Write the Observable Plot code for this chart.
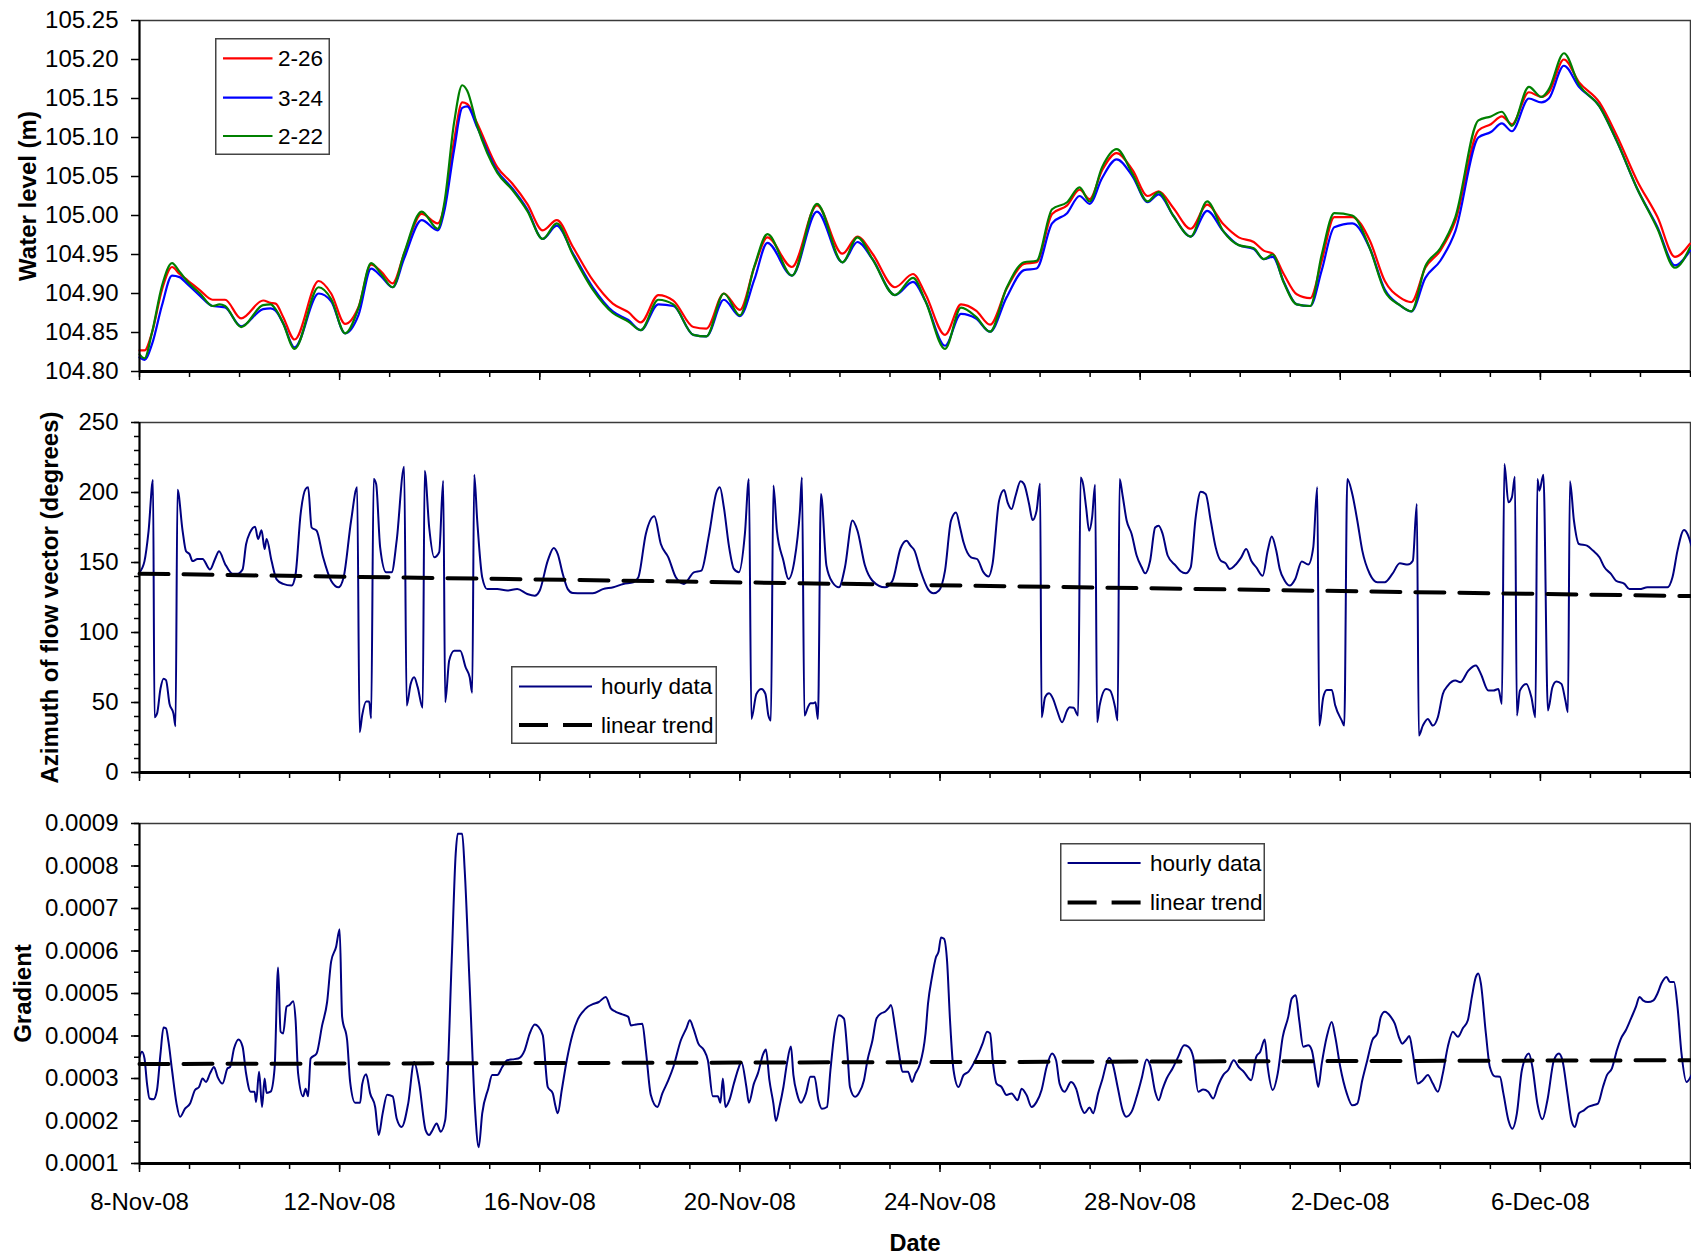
<!DOCTYPE html>
<html><head><meta charset="utf-8">
<script src="https://cdn.jsdelivr.net/npm/d3@7"></script>
<script src="https://cdn.jsdelivr.net/npm/@observablehq/plot@0.6"></script>
<style>
body{margin:0;background:#fff;font-family:"Liberation Sans",Arial,Helvetica,sans-serif;}
#wrap{position:relative;width:1691px;height:1257px;overflow:hidden;}
.panel{position:absolute;left:0;}
.legend{position:absolute;}
</style></head>
<body><div id="wrap"></div>
<script>
// ---------- data ----------
const dateTickLabels = ["8-Nov-08","12-Nov-08","16-Nov-08","20-Nov-08","24-Nov-08","28-Nov-08","2-Dec-08","6-Dec-08"];
const seriesNames = ["2-26","3-24","2-22"];
const seriesColors = ["#ff0000","#0000ff","#008000"];

// water level: time in days since 8-Nov-08 00:00
const wlDays = [0,0.10,0.25,0.45,0.65,0.80,0.96,1.21,1.46,1.60,1.71,2.03,2.47,2.62,2.72,2.87,3.10,3.58,3.83,4.11,4.38,4.63,4.83,5.06,5.29,5.64,5.96,6.09,6.29,6.45,6.55,6.75,7.15,7.45,7.75,8.06,8.34,8.66,9.06,9.46,9.77,10.02,10.37,10.67,11.07,11.33,11.68,12.00,12.29,12.55,13.04,13.54,14.05,14.35,14.65,15.10,15.46,15.71,16.10,16.42,16.72,17.00,17.33,17.68,17.93,18.24,18.54,18.79,18.99,19.24,19.53,19.85,20.15,20.37,20.66,21.01,21.34,21.66,21.97,22.27,22.47,22.65,22.87,23.13,23.40,23.63,23.88,24.24,24.59,24.89,25.19,25.42,25.70,26.00,26.30,26.76,27.01,27.23,27.43,27.77,28.02,28.17,28.47,28.77,29.18,29.53,29.93,30.34,30.69,30.99];
const wl226 = [104.827,104.827,104.850,104.905,104.934,104.925,104.917,104.904,104.892,104.892,104.892,104.868,104.891,104.888,104.887,104.870,104.841,104.916,104.900,104.861,104.883,104.937,104.928,104.913,104.951,105.002,104.990,105.011,105.097,105.145,105.143,105.118,105.062,105.041,105.015,104.981,104.994,104.960,104.917,104.887,104.876,104.863,104.898,104.891,104.857,104.855,104.900,104.879,104.934,104.972,104.934,105.013,104.951,104.973,104.951,104.908,104.925,104.899,104.847,104.886,104.878,104.860,104.906,104.938,104.940,105.002,105.013,105.033,105.021,105.058,105.080,105.058,105.025,105.031,105.010,104.983,105.014,104.989,104.972,104.966,104.955,104.951,104.925,104.899,104.894,104.942,104.998,104.998,104.968,104.916,104.895,104.889,104.933,104.955,104.993,105.109,105.117,105.127,105.117,105.158,105.152,105.158,105.200,105.171,105.145,105.102,105.045,104.998,104.947,104.964];
const wl324 = [104.818,104.815,104.835,104.885,104.923,104.921,104.912,104.897,104.884,104.883,104.882,104.858,104.880,104.881,104.878,104.862,104.831,104.900,104.890,104.849,104.873,104.932,104.922,104.908,104.945,104.994,104.981,105.005,105.085,105.138,105.140,105.113,105.057,105.035,105.008,104.970,104.987,104.952,104.908,104.877,104.866,104.853,104.886,104.884,104.847,104.845,104.892,104.871,104.918,104.965,104.923,105.005,104.940,104.966,104.944,104.898,104.915,104.890,104.833,104.874,104.868,104.851,104.895,104.930,104.932,104.990,105.003,105.025,105.015,105.048,105.072,105.050,105.017,105.027,105.000,104.973,105.006,104.980,104.962,104.957,104.944,104.947,104.915,104.886,104.884,104.930,104.985,104.990,104.958,104.905,104.885,104.877,104.920,104.942,104.980,105.100,105.107,105.118,105.108,105.150,105.145,105.150,105.192,105.165,105.140,105.095,105.035,104.985,104.936,104.955];
const wl222 = [104.822,104.817,104.850,104.910,104.939,104.928,104.915,104.900,104.884,104.886,104.884,104.857,104.885,104.886,104.880,104.862,104.829,104.908,104.893,104.849,104.882,104.939,104.925,104.908,104.952,105.005,104.983,105.015,105.120,105.167,105.160,105.115,105.055,105.033,105.006,104.970,104.990,104.950,104.905,104.875,104.864,104.853,104.892,104.886,104.847,104.845,104.900,104.872,104.935,104.976,104.923,105.015,104.940,104.972,104.944,104.898,104.920,104.890,104.829,104.882,104.870,104.851,104.907,104.940,104.942,105.008,105.017,105.036,105.018,105.062,105.085,105.053,105.018,105.030,105.000,104.973,105.018,104.980,104.962,104.958,104.944,104.950,104.914,104.886,104.884,104.950,105.003,105.000,104.958,104.903,104.885,104.877,104.935,104.958,104.998,105.122,105.127,105.133,105.115,105.165,105.152,105.162,105.208,105.168,105.140,105.095,105.035,104.983,104.933,104.959];
const wlTicks = [104.80,104.85,104.90,104.95,105.00,105.05,105.10,105.15,105.20,105.25];

// azimuth of flow vector (degrees), hourly data
const azDays = [0,0.1,0.18,0.27,0.30,0.35,0.42,0.48,0.53,0.6,0.68,0.72,0.76,0.86,0.93,1.0,1.06,1.16,1.26,1.41,1.51,1.59,1.71,1.86,1.96,2.06,2.13,2.21,2.31,2.37,2.44,2.5,2.54,2.64,2.74,2.87,3.04,3.12,3.22,3.32,3.37,3.44,3.54,3.67,3.83,3.98,4.08,4.23,4.35,4.4,4.45,4.53,4.59,4.63,4.68,4.73,4.81,4.93,5.04,5.14,5.29,5.34,5.42,5.49,5.56,5.66,5.7,5.79,5.89,5.99,6.07,6.11,6.19,6.29,6.41,6.52,6.6,6.65,6.69,6.75,6.85,6.95,7.15,7.35,7.55,7.75,7.9,8.0,8.16,8.28,8.36,8.46,8.56,8.66,8.86,9.06,9.26,9.47,9.67,9.87,9.97,10.12,10.29,10.42,10.57,10.72,10.88,11.08,11.23,11.38,11.53,11.6,11.68,11.78,11.88,11.98,12.1,12.18,12.23,12.33,12.43,12.51,12.57,12.62,12.67,12.74,12.87,12.97,13.09,13.2,13.24,13.29,13.36,13.41,13.47,13.51,13.56,13.62,13.73,13.85,13.98,14.1,14.25,14.35,14.5,14.65,14.9,15.05,15.21,15.33,15.41,15.49,15.61,15.76,15.87,15.98,16.1,16.22,16.32,16.4,16.47,16.62,16.74,16.87,16.97,17.05,17.18,17.28,17.35,17.43,17.51,17.61,17.68,17.78,17.85,17.93,18.0,18.03,18.1,18.18,18.26,18.34,18.44,18.54,18.59,18.67,18.76,18.81,18.86,18.92,18.98,19.04,19.1,19.14,19.19,19.32,19.4,19.5,19.55,19.59,19.65,19.73,19.83,19.93,20.03,20.1,20.2,20.3,20.37,20.45,20.55,20.71,20.81,20.91,21.01,21.11,21.21,21.31,21.41,21.51,21.61,21.71,21.79,21.89,22.02,22.12,22.22,22.32,22.45,22.55,22.63,22.72,22.79,22.89,22.99,23.1,23.23,23.36,23.46,23.54,23.58,23.66,23.73,23.83,23.9,24.03,24.08,24.14,24.24,24.34,24.44,24.59,24.74,24.89,25.04,25.19,25.35,25.45,25.53,25.57,25.65,25.75,25.85,25.95,26.05,26.15,26.3,26.4,26.56,26.71,26.81,26.96,27.06,27.16,27.23,27.28,27.36,27.43,27.49,27.53,27.59,27.72,27.82,27.9,27.94,27.98,28.06,28.15,28.24,28.32,28.42,28.5,28.55,28.59,28.67,28.77,28.93,29.05,29.18,29.28,29.41,29.51,29.68,29.78,29.98,30.14,30.34,30.54,30.64,30.74,30.87,30.94,31.02];
const azHourly = [143,151,172,209,39.5,42,60,67,66,49,42,33,202,173,158,156,151,152.5,152.5,145,152.5,158,149,142,142,145,163,171.5,175.6,166.8,173,159.6,166.8,151,138,134.7,133.5,141.8,184.6,202.5,203.7,175,172.7,153.7,137,132.3,139.4,180,203.7,28.8,40.7,50.7,50.7,38.8,209.6,206,160.8,143,143,165.6,218.4,47.8,63.3,68,61,46.2,215.6,175,153.7,157.3,208.4,50.2,80,87,87,75,68,57,212.7,180,139.4,131,131,130,131,127.5,126.3,130,151.3,160.4,156,141.8,131,128.2,128,128,131,132.3,134.7,135.9,139.4,170.4,183,163.2,153.7,139.4,134.7,143,144.2,169.2,200,203.7,189.4,162,145.4,143,170.4,209.6,38.3,56.1,59.7,56.1,40.7,37.1,205,172.7,151.3,138.2,151.3,187,210.8,40.7,46.6,49.5,49.5,50.2,38.3,199,147.8,135.9,132.3,146.6,180,172.7,147.8,137,132.3,137,160,165.6,162,158.5,144.2,131,128,130,144.2,180,185.8,175,164.4,153.7,152.5,143,140,149,194,201.8,193,188.2,197.7,208,206,191.8,180.3,187,206.5,39.5,53.8,56.6,52.6,44.3,35.9,44.3,46.6,46.2,40.7,210.8,206,189.4,172.7,182.3,205.6,35.9,47.8,59.7,58.5,46.6,37.1,209.6,197.7,180,170.4,155,146.6,142.3,151.3,175,176.3,170.4,155,147.8,143.7,142.3,146.6,182.3,200.6,199,180,160.8,151.3,149.4,145.4,147.8,153.7,159.6,151.3,146.6,140.6,158.5,168.5,158.5,145.4,137,133.5,138.2,150.8,148.5,160.8,203.7,33.5,53.8,59,59,47.8,37.1,33.5,209.6,199,180,158.5,141.8,135.9,135.9,141.8,149.4,148.5,151.3,191.8,26.4,33.5,38.3,33.5,39.5,56.1,62.1,65.7,64.5,72.8,76.4,70.4,58.5,58.5,59.7,49,220.3,193,196.5,211.3,40.7,58.5,63.3,53.8,39.5,209.6,201.3,212.7,44.3,60.9,65,63.3,51.4,43.1,208,180,163.2,162,158.5,153.7,146.6,141.8,137,134.7,131,131,132.3,132.3,132.3,139.4,158.5,173.2,170.4,162];
const azTrendDays = [0,31];
const azTrend = [142,126];
const azTicks = [0,50,100,150,200,250];

// hydraulic gradient, hourly data
const grDays = [0,0.05,0.1,0.15,0.2,0.28,0.35,0.42,0.48,0.53,0.58,0.65,0.74,0.81,0.91,1.01,1.11,1.19,1.26,1.33,1.41,1.49,1.56,1.66,1.76,1.81,1.89,1.98,2.06,2.13,2.22,2.3,2.33,2.39,2.45,2.5,2.54,2.62,2.7,2.77,2.82,2.87,2.94,3.0,3.07,3.12,3.17,3.27,3.32,3.37,3.42,3.54,3.65,3.75,3.83,3.93,4.0,4.05,4.15,4.21,4.31,4.41,4.45,4.53,4.61,4.71,4.78,4.86,4.95,5.06,5.14,5.24,5.37,5.49,5.59,5.72,5.79,5.84,5.94,6.02,6.11,6.24,6.32,6.36,6.45,6.5,6.6,6.7,6.78,6.85,6.97,7.05,7.15,7.25,7.35,7.45,7.57,7.7,7.8,7.9,7.97,8.06,8.16,8.26,8.31,8.36,8.44,8.54,8.66,8.76,8.86,8.96,9.06,9.18,9.32,9.42,9.52,9.65,9.77,9.82,9.92,10.05,10.12,10.22,10.35,10.45,10.57,10.67,10.82,10.93,11.0,11.07,11.17,11.28,11.36,11.46,11.56,11.61,11.66,11.71,11.79,11.88,11.98,12.03,12.13,12.18,12.28,12.36,12.47,12.52,12.59,12.67,12.72,12.79,12.87,12.94,13.02,13.07,13.14,13.22,13.32,13.41,13.49,13.57,13.64,13.74,13.81,13.89,13.98,14.08,14.15,14.2,14.3,14.38,14.48,14.55,14.65,14.73,14.82,14.9,14.98,15.02,15.1,15.18,15.25,15.36,15.44,15.51,15.59,15.71,15.76,15.84,15.92,15.97,16.02,16.08,16.14,16.2,16.27,16.37,16.47,16.57,16.67,16.77,16.85,16.94,17.0,17.06,17.13,17.23,17.33,17.43,17.55,17.63,17.73,17.83,17.93,18.03,18.13,18.24,18.32,18.39,18.49,18.62,18.72,18.82,18.89,18.99,19.06,19.16,19.24,19.38,19.45,19.55,19.65,19.72,19.83,19.93,20.03,20.13,20.2,20.3,20.37,20.45,20.53,20.65,20.76,20.88,20.96,21.06,21.16,21.26,21.36,21.46,21.56,21.66,21.76,21.87,21.97,22.07,22.22,22.32,22.4,22.49,22.55,22.65,22.75,22.85,22.96,23.03,23.11,23.18,23.26,23.36,23.43,23.5,23.56,23.63,23.73,23.83,23.9,24.0,24.13,24.24,24.34,24.44,24.54,24.64,24.74,24.81,24.89,25.01,25.09,25.17,25.24,25.31,25.38,25.45,25.55,25.65,25.75,25.85,25.95,26.05,26.15,26.25,26.35,26.45,26.55,26.63,26.71,26.76,26.81,26.91,26.99,27.09,27.19,27.26,27.36,27.44,27.53,27.63,27.77,27.84,27.94,28.04,28.14,28.27,28.37,28.44,28.54,28.62,28.69,28.77,28.87,28.95,29.05,29.15,29.25,29.33,29.43,29.53,29.61,29.71,29.81,29.91,29.98,30.05,30.15,30.26,30.34,30.42,30.52,30.59,30.67,30.74,30.82,30.92,31.02];
const grHourly = [0.000351,0.000363,0.000347,0.000288,0.000253,0.000251,0.000273,0.000359,0.00042,0.000418,0.000386,0.00032,0.000241,0.00021,0.000229,0.000241,0.000273,0.00028,0.0003,0.000292,0.000312,0.000327,0.000304,0.000288,0.000324,0.000327,0.000371,0.000392,0.000375,0.000312,0.000269,0.000269,0.000245,0.000316,0.000233,0.0003,0.000266,0.000269,0.000324,0.000561,0.00041,0.000406,0.000469,0.000473,0.000482,0.000437,0.000312,0.000258,0.000276,0.000258,0.000347,0.000359,0.000425,0.00048,0.000575,0.00061,0.000651,0.000445,0.00039,0.000292,0.000243,0.000243,0.000286,0.00031,0.000265,0.000233,0.000167,0.000218,0.000262,0.000258,0.000206,0.000186,0.000241,0.000339,0.000288,0.000178,0.000167,0.000175,0.000194,0.000175,0.000202,0.000578,0.000829,0.000876,0.000876,0.00079,0.000516,0.000241,0.000138,0.000218,0.000276,0.000308,0.000308,0.000327,0.000343,0.000345,0.000347,0.000367,0.000406,0.000427,0.000422,0.000402,0.00028,0.000265,0.000237,0.000218,0.000273,0.000343,0.000406,0.000439,0.000457,0.000469,0.000475,0.00048,0.000492,0.000465,0.000457,0.000451,0.000445,0.000425,0.000427,0.000429,0.000367,0.000261,0.000233,0.000265,0.000296,0.000327,0.00039,0.000418,0.000437,0.000418,0.000382,0.000367,0.000343,0.000258,0.000258,0.000243,0.0003,0.000233,0.000249,0.000288,0.000327,0.000339,0.00028,0.000243,0.000288,0.000312,0.000359,0.000368,0.000296,0.000241,0.0002,0.000233,0.00028,0.000335,0.000375,0.000308,0.000265,0.000243,0.000265,0.000304,0.000304,0.000249,0.000229,0.000233,0.00032,0.000406,0.000449,0.000441,0.000359,0.00028,0.000257,0.000266,0.000296,0.000343,0.00039,0.000441,0.000453,0.000457,0.000467,0.000473,0.000422,0.000359,0.000316,0.000316,0.000292,0.000312,0.000331,0.000406,0.000476,0.000539,0.000586,0.000598,0.000632,0.000629,0.000578,0.000437,0.00032,0.00028,0.000308,0.000316,0.000335,0.000359,0.000382,0.00041,0.000406,0.000335,0.000288,0.00028,0.000261,0.000265,0.000249,0.000276,0.000261,0.000233,0.000245,0.000273,0.000327,0.000359,0.000343,0.000288,0.000269,0.000292,0.000276,0.000233,0.000219,0.000232,0.000218,0.000265,0.000296,0.000349,0.000335,0.00028,0.000225,0.00021,0.000222,0.000257,0.0003,0.000345,0.000331,0.000269,0.000249,0.000276,0.0003,0.000324,0.000351,0.000378,0.000375,0.000351,0.000269,0.000274,0.000269,0.000253,0.000284,0.000308,0.00032,0.000343,0.000327,0.000316,0.000296,0.000351,0.000363,0.000392,0.000327,0.000273,0.000312,0.000398,0.000445,0.000488,0.000496,0.000437,0.000375,0.000378,0.000367,0.00032,0.00028,0.000335,0.000398,0.000433,0.000398,0.000327,0.000265,0.000237,0.000241,0.000296,0.000343,0.00039,0.000406,0.000445,0.000457,0.000445,0.000429,0.000398,0.000382,0.00039,0.0004,0.000359,0.000288,0.000296,0.000308,0.000288,0.000269,0.000312,0.000375,0.00041,0.000398,0.000418,0.000437,0.000492,0.000539,0.000547,0.000524,0.000406,0.000327,0.000305,0.000304,0.000265,0.000202,0.000182,0.000218,0.00032,0.000359,0.000327,0.000241,0.000204,0.000249,0.000343,0.000359,0.000343,0.000265,0.000202,0.000186,0.000218,0.000225,0.000233,0.000237,0.000241,0.00028,0.000308,0.000324,0.000367,0.000394,0.000414,0.000441,0.000469,0.000492,0.000484,0.00048,0.000484,0.0005,0.000524,0.000539,0.000527,0.000527,0.000469,0.000359,0.000292,0.000308];
const grTrendDays = [0,31];
const grTrend = [0.000334,0.000343];
const grTicks = [0.0001,0.0002,0.0003,0.0004,0.0005,0.0006,0.0007,0.0008,0.0009];

// ---------- helpers ----------
const FONT = '"Liberation Sans", Arial, Helvetica, sans-serif';
const parseLabel = d3.utcParse("%d-%b-%y");
const start = parseLabel(dateTickLabels[0]);
const toDate = d => new Date(start.getTime() + d * 864e5);
const xDomain = [start, toDate(31)];
const majorDates = dateTickLabels.map(parseLabel);
const dailyDates = d3.utcDay.range(start, d3.utcDay.offset(xDomain[1], 1));
const fmtDate = d3.utcFormat("%-d-%b-%y");
const blank = () => "";
const NAVY = "#000080";
const wrap = document.getElementById("wrap");

function rows(days, vals) { return days.map((d, i) => ({t: toDate(d), v: vals[i]})); }

function xAxes(labels) {
  return [
    Plot.axisX(dailyDates, {tickSize: 6, tickFormat: blank, strokeWidth: 1.5, label: null}),
    Plot.axisX(majorDates, {tickSize: 9, tickPadding: 20.5, strokeWidth: 1.5, tickFormat: labels ? fmtDate : blank, label: null, fontSize: 24})
  ];
}

function panel({top, height, marginTop, marginBottom, yDomain, major, minor, fmt, title, titleDx, marks, labels}) {
  const p = Plot.plot({
    width: 1691, height, marginLeft: 139, marginRight: 1, marginTop, marginBottom,
    style: {fontFamily: FONT, fontSize: "24px", color: "#000", background: "transparent", overflow: "visible"},
    x: {type: "utc", domain: xDomain},
    y: {domain: yDomain},
    marks: [
      Plot.frame({stroke: "#3a3a3a", strokeWidth: 1.5}),
      ...marks,
      Plot.ruleX([xDomain[0]], {stroke: "#000", strokeWidth: 2}),
      Plot.ruleY([yDomain[0]], {stroke: "#000", strokeWidth: 3}),
      ...(minor ? [Plot.axisY(minor, {tickSize: 5, tickFormat: blank, strokeWidth: 1.5, label: null})] : []),
      Plot.axisY(major, {tickSize: 8, tickPadding: 13, tickFormat: fmt, strokeWidth: 1.5, label: null, fontSize: 24}),
      ...xAxes(labels),
      Plot.text([title], {frameAnchor: "left", textAnchor: "middle", lineAnchor: "middle", rotate: -90, dx: titleDx, fontWeight: "bold", fontSize: 24, text: d => d}),
      ...(labels ? [Plot.text(["Date"], {frameAnchor: "bottom", textAnchor: "middle", lineAnchor: "middle", dy: 80, fontWeight: "bold", fontSize: 23.5, text: d => d})] : [])
    ]
  });
  p.classList.add("panel");
  p.style.top = top + "px";
  wrap.appendChild(p);
}

function legend({left, top, width, height, items, x0, x1, tx, ys}) {
  const svg = d3.create("svg").attr("class", "legend").attr("width", width).attr("height", height)
    .style("left", left + "px").style("top", top + "px");
  svg.append("rect").attr("x", 0.75).attr("y", 0.75).attr("width", width - 1.5).attr("height", height - 1.5)
    .attr("fill", "#fff").attr("stroke", "#444").attr("stroke-width", 1.5);
  items.forEach((it, i) => {
    svg.append("line").attr("x1", x0).attr("x2", x1).attr("y1", ys[i]).attr("y2", ys[i])
      .attr("stroke", it.color).attr("stroke-width", it.width).attr("stroke-dasharray", it.dash || null);
    svg.append("text").attr("x", tx).attr("y", ys[i]).attr("dy", "0.35em").text(it.label)
      .attr("font-family", FONT).attr("font-size", 22.5).attr("fill", "#000");
  });
  wrap.appendChild(svg.node());
}

const CURVE = "monotone-x";

// ---------- panel 1: water level ----------
const wlSeries = [wl226, wl324, wl222];
panel({
  top: 0, height: 400, marginTop: 20, marginBottom: 29,
  yDomain: [104.80, 105.25], major: wlTicks, minor: null, fmt: d3.format(".2f"),
  title: "Water level (m)", titleDx: -111, labels: false,
  marks: wlSeries.map((s, k) => Plot.line(rows(wlDays, s), {x: "t", y: "v", stroke: seriesColors[k], strokeWidth: 2.2, curve: CURVE}))
});

// ---------- panel 2: azimuth ----------
panel({
  top: 400, height: 400, marginTop: 22, marginBottom: 28,
  yDomain: [0, 250], major: azTicks, minor: d3.range(0, 251, 10), fmt: d3.format("d"),
  title: "Azimuth of flow vector (degrees)", titleDx: -89.5, labels: false,
  marks: [
    Plot.line(rows(azDays, azHourly), {x: "t", y: "v", stroke: NAVY, strokeWidth: 2, curve: CURVE}),
    Plot.line(rows(azTrendDays, azTrend), {x: "t", y: "v", stroke: "#000", strokeWidth: 4, strokeDasharray: "29,15"})
  ]
});

// ---------- panel 3: gradient ----------
panel({
  top: 800, height: 457, marginTop: 23, marginBottom: 94,
  yDomain: [0.0001, 0.0009], major: grTicks, minor: d3.range(0.0001, 0.00091, 0.00005), fmt: d3.format(".4f"),
  title: "Gradient", titleDx: -116, labels: true,
  marks: [
    Plot.line(rows(grDays, grHourly), {x: "t", y: "v", stroke: NAVY, strokeWidth: 2, curve: CURVE}),
    Plot.line(rows(grTrendDays, grTrend), {x: "t", y: "v", stroke: "#000", strokeWidth: 4, strokeDasharray: "29,15"})
  ]
});

// ---------- legends ----------
legend({left: 215, top: 38, width: 115, height: 117, x0: 8, x1: 57.5, tx: 63, ys: [20.3, 59.7, 98],
  items: seriesNames.map((n, k) => ({label: n, color: seriesColors[k], width: 2.2}))});
const trendItems = [
  {label: "hourly data", color: NAVY, width: 2},
  {label: "linear trend", color: "#000", width: 4, dash: "29,15"}
];
legend({left: 511, top: 666, width: 206, height: 78, x0: 8, x1: 81, tx: 90, ys: [20.5, 59], items: trendItems});
legend({left: 1060, top: 843, width: 205, height: 78, x0: 7.6, x1: 80.6, tx: 90, ys: [20, 59.6], items: trendItems});
</script>
</body></html>
